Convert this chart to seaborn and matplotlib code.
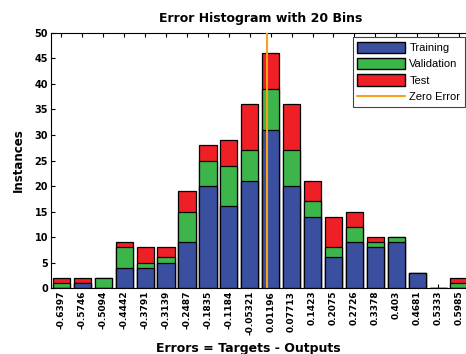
import matplotlib
matplotlib.use("Agg")
import matplotlib.pyplot as plt
import seaborn as sns
import numpy as np
import pandas as pd
from matplotlib.patches import Patch
from matplotlib.lines import Line2D

tick_labels = ["-0.6397", "-0.5746", "-0.5094", "-0.4442", "-0.3791", "-0.3139",
               "-0.2487", "-0.1835", "-0.1184", "-0.05321", "0.01196", "0.07713",
               "0.1423", "0.2075", "0.2726", "0.3378", "0.403", "0.4681", "0.5333", "0.5985"]
training   = [0, 1, 0, 4, 4, 5, 9, 20, 16, 21, 31, 20, 14, 6, 9, 8, 9, 3, 0, 0]
validation = [1, 0, 2, 4, 1, 1, 6, 5, 8, 6, 8, 7, 3, 2, 3, 1, 1, 0, 0, 1]
test       = [1, 1, 0, 1, 3, 2, 4, 3, 5, 9, 7, 9, 4, 6, 3, 1, 0, 0, 0, 1]

centers = np.array([float(t) for t in tick_labels])
step = (centers[-1] - centers[0]) / (len(centers) - 1)

df = pd.DataFrame({
    "center": centers,
    "Training": training,
    "Validation": validation,
    "Test": test,
})
df["tv"] = df["Training"] + df["Validation"]
df["total"] = df["tv"] + df["Test"]

c_blue = "#3a4fa0"
c_green = "#3cb54a"
c_red = "#ee1f25"
c_orange = "#f7a21b"

sns.set_style("white")
plt.rcParams["font.family"] = ["DejaVu Sans"]
plt.rcParams["text.color"] = "black"
plt.rcParams["axes.labelcolor"] = "black"
plt.rcParams["xtick.color"] = "black"
plt.rcParams["ytick.color"] = "black"

fig = plt.figure(figsize=(4.66, 3.54), dpi=100)
ax = fig.add_axes([0.1094, 0.1864, 0.8981, 0.7204])

common = dict(x="center", native_scale=True, width=0.82, edgecolor="black",
              linewidth=0.9, ax=ax, errorbar=None)
sns.barplot(data=df, y="total", color=c_red, saturation=1, **common)
sns.barplot(data=df, y="tv", color=c_green, saturation=1, **common)
sns.barplot(data=df, y="Training", color=c_blue, saturation=1, **common)

ax.axvline(0.0, color=c_orange, linewidth=1.5, zorder=5)

ax.set_xlim(centers[0] - step / 2, centers[-1] + step / 2)
ax.set_ylim(0, 50)
ax.set_yticks(np.arange(0, 51, 5))
ax.set_yticklabels([str(v) for v in range(0, 51, 5)], fontsize=7, fontweight="bold")
ax.set_xticks(centers)
ax.set_xticklabels(tick_labels, rotation=90, fontsize=6.5, fontweight="bold")
ax.tick_params(axis="both", direction="in", length=3, width=0.8, pad=2,
               top=True, bottom=True, left=True, right=False, colors="black")
for s in ax.spines.values():
    s.set_color("black")
    s.set_linewidth(0.8)

ax.set_title("Error Histogram with 20 Bins", fontsize=9, fontweight="bold", pad=8,
             color="black")
ax.set_xlabel("Errors = Targets - Outputs", fontsize=9, fontweight="bold")
ax.xaxis.set_label_coords(0.471, -0.21)
ax.set_ylabel("Instances", fontsize=8.5, fontweight="bold", labelpad=7)

handles = [Patch(facecolor=c_blue, edgecolor="black", label="Training"),
           Patch(facecolor=c_green, edgecolor="black", label="Validation"),
           Patch(facecolor=c_red, edgecolor="black", label="Test"),
           Line2D([0], [0], color=c_orange, linewidth=1.5, label="Zero Error")]
leg = ax.legend(handles=handles, loc="upper right", bbox_to_anchor=(0.989, 0.984),
                borderaxespad=0, prop={"family": "Liberation Sans", "size": 8},
                frameon=True, fancybox=False, handlelength=4.3,
                handleheight=1.2, borderpad=0.4, labelspacing=0.45, handletextpad=0.4)
leg.get_frame().set_edgecolor("#444444")
leg.get_frame().set_linewidth(0.8)
leg.get_frame().set_alpha(1)

fig.savefig("out.png", dpi=100)
